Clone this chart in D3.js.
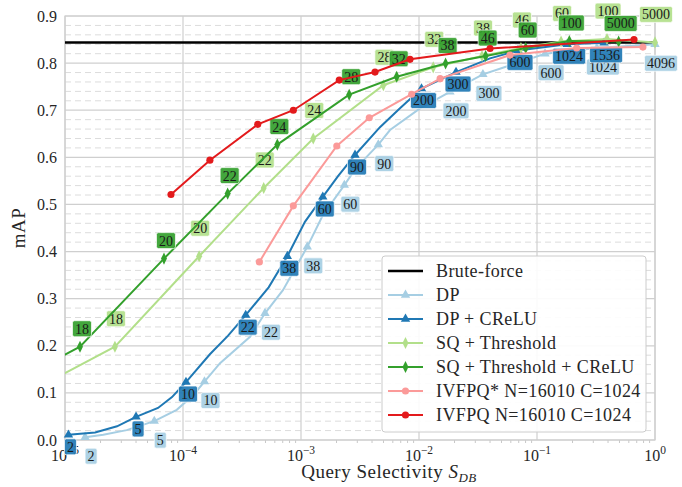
<!DOCTYPE html>
<html>
<head>
<meta charset="utf-8">
<script src="https://cdn.jsdelivr.net/npm/d3@7"></script>
<style>
  body { margin: 0; background: #fff; }
  text { font-family: "Liberation Serif", "DejaVu Serif", serif; fill: #262626; }
</style>
</head>
<body>
<div id="chart"></div>
<script>
var svgWidth = 682;
var svgHeight = 487;

var margin = {
  top: 16,
  right: 27,
  bottom: 47,
  left: 65
};

var width = svgWidth - margin.left - margin.right;
var height = svgHeight - margin.top - margin.bottom;

// Data (selectivity, mAP, point labels; "" = no marker)
var bruteForceMAP = 0.844;

var dpSel = [1.48e-5, 2.11e-5, 3.33e-5, 5.71e-5, 8.85e-5, 1.22e-4, 1.52e-4, 2.06e-4, 3.70e-4, 4.95e-4, 7.03e-4, 1.13e-3, 1.53e-3, 2.33e-3, 2.92e-3, 4.52e-3, 5.68e-3, 1.02e-2, 1.83e-2, 3.48e-2, 0.117, 0.322, 1.0];
var dpMAP = [0.006, 0.011, 0.021, 0.040, 0.064, 0.095, 0.124, 0.163, 0.219, 0.269, 0.318, 0.410, 0.477, 0.541, 0.577, 0.627, 0.658, 0.704, 0.739, 0.776, 0.820, 0.832, 0.840];
var dpLabels = ["2", "", "", "5", "", "", "10", "", "", "22", "", "38", "", "60", "", "90", "", "", "200", "300", "600", "1024", "4096"];

var dpCreluSel = [1.07e-5, 1.80e-5, 2.76e-5, 4.0e-5, 6.14e-5, 8.07e-5, 1.06e-4, 1.69e-4, 2.40e-4, 3.40e-4, 5.32e-4, 7.66e-4, 1.08e-3, 1.53e-3, 2.06e-3, 2.87e-3, 4.67e-3, 6.90e-3, 1.05e-2, 2.06e-2, 4.0e-2, 6.9e-2, 0.180, 0.370];
var dpCreluMAP = [0.011, 0.016, 0.029, 0.049, 0.068, 0.091, 0.123, 0.182, 0.221, 0.265, 0.324, 0.390, 0.463, 0.516, 0.560, 0.605, 0.664, 0.704, 0.746, 0.781, 0.810, 0.827, 0.840, 0.843];
var dpCreluLabels = ["2", "", "", "5", "", "", "10", "", "", "22", "", "38", "", "60", "", "90", "", "", "200", "300", "", "600", "1024", "1536"];

var sqSel = [7.46e-6, 2.65e-5, 1.37e-4, 4.83e-4, 1.27e-3, 4.99e-3, 1.32e-2, 3.42e-2, 7.31e-2, 0.160, 0.392, 1.0];
var sqMAP = [0.125, 0.198, 0.390, 0.535, 0.640, 0.753, 0.791, 0.815, 0.832, 0.846, 0.851, 0.844];
var sqLabels = ["", "18", "20", "22", "24", "28", "32", "38", "46", "60", "100", "5000"];

var sqCreluSel = [7.91e-6, 1.34e-5, 6.90e-5, 2.39e-4, 6.30e-4, 2.56e-3, 6.47e-3, 1.68e-2, 3.67e-2, 8.02e-2, 0.188, 0.492];
var sqCreluMAP = [0.168, 0.198, 0.385, 0.523, 0.627, 0.733, 0.771, 0.799, 0.815, 0.832, 0.847, 0.846];
var sqCreluLabels = ["", "18", "20", "22", "24", "28", "32", "38", "46", "60", "100", "5000"];

var ivfpqStarSel = [4.44e-4, 8.61e-4, 2.01e-3, 3.79e-3, 8.67e-3, 1.51e-2, 5.9e-2, 0.217, 0.79];
var ivfpqStarMAP = [0.378, 0.497, 0.624, 0.684, 0.734, 0.767, 0.817, 0.832, 0.834];

var ivfpqSel = [7.91e-5, 1.69e-4, 4.30e-4, 8.61e-4, 2.11e-3, 4.24e-3, 8.39e-3, 4.0e-2, 0.664];
var ivfpqMAP = [0.521, 0.594, 0.670, 0.700, 0.764, 0.781, 0.808, 0.831, 0.850];

var yTicks = [0, 0.1, 0.2, 0.3, 0.4, 0.5, 0.6, 0.7, 0.8, 0.9];
var xExponents = [-5, -4, -3, -2, -1, 0];

function zipSeries(sel, map, labels) {
  return sel.map(function(s, i) {
    return {x: s, y: map[i], label: labels ? labels[i] : "*"};
  });
}

var series = [
  {name: "DP", color: "#a6cee3", shape: "triangle", points: zipSeries(dpSel, dpMAP, dpLabels), dx: 6, dy: 19},
  {name: "DP + CReLU", color: "#1f78b4", shape: "triangle", points: zipSeries(dpCreluSel, dpCreluMAP, dpCreluLabels), dx: 2, dy: 12},
  {name: "SQ + Threshold", color: "#b2df8a", shape: "diamond", points: zipSeries(sqSel, sqMAP, sqLabels), dx: 1, dy: -28},
  {name: "SQ + Threshold + CReLU", color: "#33a02c", shape: "diamond", points: zipSeries(sqCreluSel, sqCreluMAP, sqCreluLabels), dx: 2, dy: -18},
  {name: "IVFPQ* N=16010 C=1024", color: "#fb9a99", shape: "circle", points: zipSeries(ivfpqStarSel, ivfpqStarMAP, null)},
  {name: "IVFPQ N=16010 C=1024", color: "#e31a1c", shape: "circle", points: zipSeries(ivfpqSel, ivfpqMAP, null)}
];

var svg = d3.select("#chart")
  .append("svg")
  .attr("width", svgWidth)
  .attr("height", svgHeight);

var chartGroup = svg.append("g")
  .attr("transform", `translate(${margin.left}, ${margin.top})`);

// Scales
var xLogScale = d3.scaleLog()
  .domain([1e-5, 1])
  .range([0, width]);
var yLinearScale = d3.scaleLinear()
  .domain([0, 0.9])
  .range([height, 0]);

// Grid: dashed minor lines every 0.02, solid majors
var minorY = d3.range(0, 0.9001, 0.02).filter(function(v) { return Math.round(v * 50) % 5 !== 0; });
chartGroup.append("g").selectAll("line")
  .data(minorY)
  .enter()
  .append("line")
  .attr("x1", 0)
  .attr("x2", width)
  .attr("y1", d => yLinearScale(d))
  .attr("y2", d => yLinearScale(d))
  .attr("stroke", "#dcdcdc")
  .attr("stroke-width", 1)
  .attr("stroke-dasharray", "6,4");

chartGroup.append("g").selectAll("line")
  .data(yTicks)
  .enter()
  .append("line")
  .attr("x1", 0)
  .attr("x2", width)
  .attr("y1", d => yLinearScale(d))
  .attr("y2", d => yLinearScale(d))
  .attr("stroke", "#cfcfcf")
  .attr("stroke-width", 1.2);

chartGroup.append("g").selectAll("line")
  .data(xExponents)
  .enter()
  .append("line")
  .attr("x1", d => xLogScale(Math.pow(10, d)))
  .attr("x2", d => xLogScale(Math.pow(10, d)))
  .attr("y1", 0)
  .attr("y2", height)
  .attr("stroke", "#cfcfcf")
  .attr("stroke-width", 1.2);

// minor ticks on the x axis
var minorX = [];
xExponents.slice(0, -1).forEach(function(e) {
  for (var m = 2; m <= 9; m++) minorX.push(m * Math.pow(10, e));
});
chartGroup.append("g").selectAll("line")
  .data(minorX)
  .enter()
  .append("line")
  .attr("x1", d => xLogScale(d))
  .attr("x2", d => xLogScale(d))
  .attr("y1", height)
  .attr("y2", height + 3)
  .attr("stroke", "#c8c8c8");

// frame
chartGroup.append("rect")
  .attr("width", width)
  .attr("height", height)
  .attr("fill", "none")
  .attr("stroke", "#cfcfcf")
  .attr("stroke-width", 1.2);

// tick labels
chartGroup.append("g").selectAll("text")
  .data(yTicks)
  .enter()
  .append("text")
  .attr("x", -8)
  .attr("y", d => yLinearScale(d))
  .attr("dy", "0.35em")
  .attr("text-anchor", "end")
  .style("font-size", "16px")
  .text(d => d.toFixed(1));

var xLabels = chartGroup.append("g").selectAll("text")
  .data(xExponents)
  .enter()
  .append("text")
  .attr("x", d => xLogScale(Math.pow(10, d)))
  .attr("y", height + 21)
  .attr("text-anchor", "middle")
  .style("font-size", "16px");
xLabels.append("tspan").text("10");
xLabels.append("tspan")
  .attr("dy", -7)
  .style("font-size", "11.5px")
  .text(d => d < 0 ? "\u2212" + (-d) : "0");

// axis titles
chartGroup.append("text")
  .attr("transform", `translate(${-40}, ${height / 2}) rotate(-90)`)
  .attr("text-anchor", "middle")
  .style("font-size", "19px")
  .style("letter-spacing", "0.4px")
  .text("mAP");

var xTitle = chartGroup.append("text")
  .attr("x", 389 - margin.left)
  .attr("y", height + 38)
  .attr("text-anchor", "middle")
  .style("font-size", "19px")
  .style("letter-spacing", "0.5px");
xTitle.append("tspan").text("Query Selectivity ");
xTitle.append("tspan").style("font-style", "italic").text("S");
xTitle.append("tspan").attr("dy", 4).style("font-style", "italic").style("font-size", "13px").text("DB");

// clip for lines
chartGroup.append("clipPath")
  .attr("id", "plot-clip")
  .append("rect")
  .attr("width", width)
  .attr("height", height);

var line = d3.line()
  .x(d => xLogScale(d.x))
  .y(d => yLinearScale(d.y));

function markerPath(shape) {
  if (shape === "triangle") return d3.symbol(d3.symbolTriangle, 38)();
  if (shape === "diamond") return d3.symbol(d3.symbolDiamond, 42)();
  return d3.symbol(d3.symbolCircle, 40)();
}
function markerTransform(shape, x, y) {
  var t = `translate(${x}, ${y})`;
  return shape === "diamond" ? t + " scale(0.85, 1)" : t;
}

// Brute-force
chartGroup.append("line")
  .attr("x1", 0)
  .attr("x2", width)
  .attr("y1", yLinearScale(bruteForceMAP))
  .attr("y2", yLinearScale(bruteForceMAP))
  .attr("stroke", "#000")
  .attr("stroke-width", 2.5);

series.forEach(function(s) {
  var g = chartGroup.append("g");
  g.append("path")
    .datum(s.points)
    .attr("clip-path", "url(#plot-clip)")
    .attr("d", line)
    .attr("fill", "none")
    .attr("stroke", s.color)
    .attr("stroke-width", 2);

  g.selectAll("path.marker")
    .data(s.points.filter(p => p.label !== ""))
    .enter()
    .append("path")
    .attr("class", "marker")
    .attr("d", markerPath(s.shape))
    .attr("transform", p => markerTransform(s.shape, xLogScale(p.x), yLinearScale(p.y)))
    .attr("fill", s.color);

  if (s.dx === undefined) return;

  var boxes = g.selectAll("g.lbl")
    .data(s.points.filter(p => p.label !== ""))
    .enter()
    .append("g")
    .attr("class", "lbl")
    .attr("transform", p => `translate(${xLogScale(p.x) + s.dx}, ${yLinearScale(p.y) + s.dy})`);

  boxes.append("rect")
    .attr("fill", s.color)
    .attr("fill-opacity", 0.92)
    .attr("stroke", "#ffffff")
    .attr("stroke-opacity", 0.7)
    .attr("rx", 2);
  boxes.append("text")
    .attr("text-anchor", "middle")
    .attr("dy", "0.35em")
    .style("font-size", "14px")
    .style("fill", "#1a1a1a")
    .text(p => p.label);
  boxes.each(function() {
    var sel = d3.select(this);
    var w = sel.select("text").node().getComputedTextLength() + 5;
    sel.select("rect")
      .attr("x", -w / 2)
      .attr("y", -8)
      .attr("width", w)
      .attr("height", 16);
  });
});

// Legend
var legendItems = [{name: "Brute-force", color: "#000", shape: null}].concat(series);
var legend = chartGroup.append("g")
  .attr("transform", `translate(${317}, ${240})`);
legend.append("rect")
  .attr("width", 264)
  .attr("height", 176)
  .attr("rx", 3)
  .attr("fill", "#fff")
  .attr("fill-opacity", 0.9)
  .attr("stroke", "#cccccc");

var rows = legend.selectAll("g.row")
  .data(legendItems)
  .enter()
  .append("g")
  .attr("class", "row")
  .attr("transform", (d, i) => `translate(0, ${15 + i * 24})`);
rows.append("line")
  .attr("x1", 6)
  .attr("x2", 41)
  .attr("stroke", d => d.color)
  .attr("stroke-width", d => d.shape ? 2 : 2.5);
rows.filter(d => d.shape)
  .append("path")
  .attr("d", d => markerPath(d.shape))
  .attr("transform", d => markerTransform(d.shape, 23.5, 0))
  .attr("fill", d => d.color);
rows.append("text")
  .attr("x", 54)
  .attr("dy", "0.35em")
  .style("font-size", "18px")
  .style("letter-spacing", "0.4px")
  .text(d => d.name);
</script>
</body>
</html>
